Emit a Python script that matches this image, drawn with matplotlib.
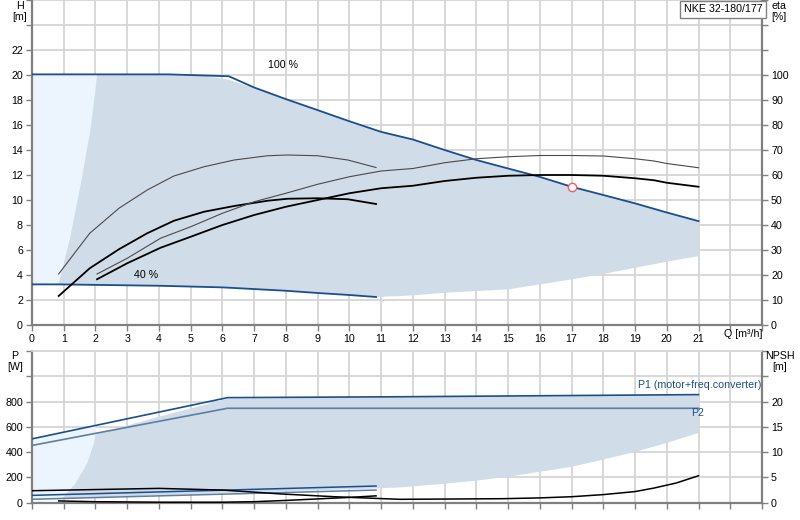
import matplotlib
matplotlib.use('Agg')
import matplotlib.pyplot as plt
import numpy as np

plt.rcParams['font.family'] = ['Liberation Sans', 'DejaVu Sans']
FS = 7.7
plt.rcParams['font.size'] = FS

NAVY = '#1a4f8b'
GRAYBLUE = '#5f7ea3'
FILL = '#d0dce8'
LIGHT = '#ecf5fd'
GRID = '#d6d6d6'
SPINE = '#808080'

# ---- top chart: head / efficiency ----
q_max = [0, 4.3, 6.2, 7, 8, 9, 10, 11, 12, 13, 14, 15, 16, 17, 18, 19, 20, 21]
h_max = [20.05, 20.05, 19.9, 19.0, 18.07, 17.19, 16.3, 15.45, 14.84, 14.0, 13.2, 12.52,
         11.85, 11.06, 10.4, 9.73, 9.0, 8.31]
q_min = [0, 0.84, 4, 6, 8, 9, 10, 10.84]
h_min = [3.25, 3.25, 3.14, 3.01, 2.74, 2.56, 2.4, 2.24]

# operating range fill
q_left = [0.84, 1.21, 1.58, 1.84, 2.0, 2.05]
h_left = [3.25, 7.06, 11.85, 15.6, 18.8, 20.05]
q_ftop = [4.3, 5.4, 6.2, 7.0]
h_ftop = [20.05, 19.95, 19.62, 18.95]
q_fbot = [10.84, 11.6, 12, 13, 15, 17, 18, 19, 20, 21]
h_fbot = [2.24, 2.32, 2.37, 2.58, 2.85, 3.65, 4.08, 4.58, 5.06, 5.51]

# efficiency curves [%]
q_eta40 = [0.84, 1.82, 2.74, 3.63, 4.47, 5.42, 6.37, 7.42, 8.05, 9.0, 9.95, 10.84]
eta40_pump = [20.4, 36.7, 46.7, 54.0, 59.6, 63.3, 66.0, 67.7, 68.0, 67.7, 66.0, 63.0]
eta40_tot = [11.6, 22.7, 30.3, 36.7, 41.7, 45.3, 47.6, 49.7, 50.5, 50.7, 50.3, 48.4]
q_eta100 = [2.05, 3, 4.05, 5, 6, 7, 8, 9, 10, 11, 12, 13, 14, 15, 16, 17, 18, 19, 19.6, 20, 21]
eta100_pump = [20.4, 26.7, 34.7, 39.3, 44.7, 49.3, 52.7, 56.3, 59.3, 61.6, 62.6, 64.9, 66.5,
               67.3, 67.8, 67.8, 67.6, 66.5, 65.6, 64.6, 62.9]
eta100_tot = [18.3, 24.7, 30.9, 35.3, 40.0, 44.0, 47.3, 50.0, 52.7, 54.7, 55.7, 57.6, 58.9,
              59.7, 60.0, 60.0, 59.7, 58.7, 57.9, 56.9, 55.3]

q_duty = [17]
h_duty = [11.06]

# ---- bottom chart: power / NPSH ----
q_p100 = [0, 6.16, 11.6, 21]
p1_100 = [505, 831, 838, 855]
p2_100 = [453, 747, 747, 747]
q_p40 = [0, 10.84]
p1_40 = [58, 132]
p2_40 = [27, 100]

q_pleft = [0.84, 1.0, 1.37, 1.74, 1.95, 2.0]
p_pleft = [30, 45, 153, 311, 469, 540]
q_pftop = [4.0, 6.16, 11.6, 21]
p_pftop = [680, 822, 834, 850]
q_pfbot = [10.84, 11.6, 13, 14, 15, 17, 18, 19, 20, 21]
p_pfbot = [113, 121, 150, 175, 205, 284, 342, 402, 473, 552]

q_npsh100 = [0, 2, 4, 6, 7.85, 9.53, 10.84, 11.6, 14.8, 16, 17, 18, 19, 19.6, 20.3, 21]
npsh100 = [2.37, 2.6, 2.83, 2.5, 1.73, 1.18, 0.85, 0.67, 0.79, 0.95, 1.18, 1.6, 2.2, 2.9, 3.9, 5.33]
q_npsh40 = [0.84, 2, 4, 6, 7, 8, 9, 10, 10.84]
npsh40 = [0.35, 0.2, 0.1, 0.1, 0.2, 0.45, 0.75, 1.05, 1.35]

fig = plt.figure(figsize=(8, 5.2), dpi=100)
ax = fig.add_axes([32 / 800, 1 - 325 / 520, 730 / 800, 325 / 520])
axb = fig.add_axes([32 / 800, 1 - 502.7 / 520, 730 / 800, 151.7 / 520])


def style(a, ylim, ystep):
    a.set_xlim(0, 23)
    a.set_ylim(*ylim)
    a.set_xticks(np.arange(0, 24, 1))
    a.set_yticks(np.arange(ylim[0], ylim[1] + 1, ystep))
    a.grid(True, color=GRID, linewidth=1.3, zorder=0)
    a.set_axisbelow(True)
    for s in ['left', 'right', 'bottom']:
        a.spines[s].set_color(SPINE)
        a.spines[s].set_linewidth(1.6)
    a.spines['top'].set_color(GRID)
    a.spines['top'].set_linewidth(1.3)
    a.tick_params(length=4, width=1, color=SPINE, pad=2.5, labelsize=FS)


style(ax, (0, 26), 2)
ax.spines['top'].set_visible(False)
ax.set_yticklabels([str(v) if v <= 22 else '' for v in range(0, 27, 2)])
ax.set_xticklabels([str(v) if v <= 21 else '' for v in range(0, 24)])

# light region left of the operating range
ax.fill_betweenx([3.25, 20.05], 0, [0.84, 2.05], color=LIGHT, lw=0, zorder=1)
ax.fill_betweenx(h_left, 0, q_left, color=LIGHT, lw=0, zorder=1)

qm = np.array(q_max)
hm = np.array(h_max)
poly_q = np.concatenate([q_left, q_ftop, qm[qm >= 8], [21], q_fbot[::-1], q_min[::-1][:-1]])
poly_h = np.concatenate([h_left, h_ftop, hm[qm >= 8], [5.51], h_fbot[::-1], h_min[::-1][:-1]])
ax.fill(poly_q, poly_h, color=FILL, lw=0, zorder=1.5)

ax.plot(q_max, h_max, color=NAVY, lw=1.3, zorder=3)
ax.plot(q_min, h_min, color=NAVY, lw=1.3, zorder=3)

axe = ax.twinx()
axe.set_ylim(0, 130)
axe.set_yticks(np.arange(0, 131, 10))
axe.set_yticklabels([str(v) if v <= 100 else '' for v in range(0, 131, 10)])
axe.tick_params(length=4, width=1, color=SPINE, pad=2.5, labelsize=FS)
for s in axe.spines.values():
    s.set_visible(False)
axe.plot(q_eta40, eta40_pump, color='#4a4a4a', lw=0.8)
axe.plot(q_eta40, eta40_tot, color='black', lw=1.3)
axe.plot(q_eta100, eta100_pump, color='#4a4a4a', lw=0.8)
axe.plot(q_eta100, eta100_tot, color='black', lw=1.3)

ax.plot(q_duty, h_duty, 'o', ms=6, mfc='white', mec='#ff5a5a', mew=1, zorder=5)

ax.text(7.9, 20.8, '100 %', ha='center', va='center', fontsize=FS)
ax.text(3.6, 4.0, '40 %', ha='center', va='center', fontsize=FS)
ax.text(21.78, 25.25, 'NKE 32-180/177', ha='center', va='center', fontsize=FS,
        bbox=dict(boxstyle='square,pad=0.35', fc='white', ec=SPINE, lw=1))

fig.text(20 / 800, 1 - 6 / 520, 'H', ha='center', va='center', fontsize=FS)
fig.text(20 / 800, 1 - 17 / 520, '[m]', ha='center', va='center', fontsize=FS)
fig.text(779 / 800, 1 - 6 / 520, 'eta', ha='center', va='center', fontsize=FS)
fig.text(779 / 800, 1 - 17 / 520, '[%]', ha='center', va='center', fontsize=FS)
fig.text(743 / 800, 1 - 334 / 520, 'Q [m³/h]', ha='center', va='center', fontsize=FS)

# ---- bottom ----
style(axb, (0, 1200), 200)
axb.set_yticklabels([str(v) if v <= 800 else '' for v in range(0, 1201, 200)])
axb.set_xticklabels([])

axb.fill_between([0, 2.0], [505, 505 + 2.0 / 6.16 * 326], [27, 27 + 2.0 / 10.84 * 73],
                 color=LIGHT, lw=0, zorder=1)
pq = np.concatenate([q_pleft, q_pftop, [21], q_pfbot[::-1], [0.84]])
pp = np.concatenate([p_pleft, p_pftop, [552], p_pfbot[::-1], [33]])
axb.fill(pq, pp, color=FILL, lw=0, zorder=1.5)

axb.plot(q_p100, p1_100, color=NAVY, lw=1.2, zorder=3)
axb.plot(q_p100, p2_100, color=GRAYBLUE, lw=1.2, zorder=3)
axb.plot(q_p40, p1_40, color=NAVY, lw=1.1, zorder=3)
axb.plot(q_p40, p2_40, color=GRAYBLUE, lw=1.1, zorder=3)

axn = axb.twinx()
axn.set_ylim(0, 30)
axn.set_yticks(np.arange(0, 31, 5))
axn.set_yticklabels([str(v) if v <= 20 else '' for v in range(0, 31, 5)])
axn.tick_params(length=4, width=1, color=SPINE, pad=2.5, labelsize=FS)
for s in axn.spines.values():
    s.set_visible(False)
axn.plot(q_npsh100, npsh100, color='black', lw=1.1)
axn.plot(q_npsh40, npsh40, color='black', lw=1.1)

axb.text(19.08, 929, 'P1 (motor+freq.converter)', ha='left', va='center', fontsize=FS, color=NAVY)
axb.text(20.76, 708, 'P2', ha='left', va='center', fontsize=FS, color=NAVY)

fig.text(15 / 800, 1 - 356 / 520, 'P', ha='center', va='center', fontsize=FS)
fig.text(15 / 800, 1 - 367 / 520, '[W]', ha='center', va='center', fontsize=FS)
fig.text(780 / 800, 1 - 356 / 520, 'NPSH', ha='center', va='center', fontsize=FS)
fig.text(780 / 800, 1 - 367 / 520, '[m]', ha='center', va='center', fontsize=FS)

fig.savefig('out.png', dpi=100, facecolor='white')
